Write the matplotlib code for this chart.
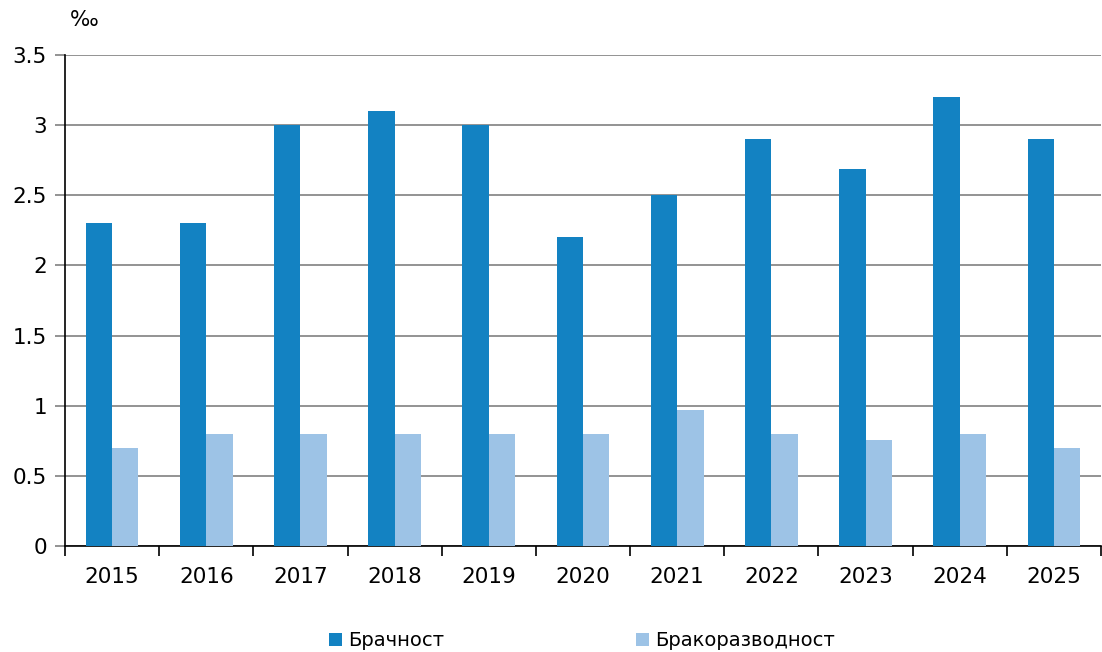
import matplotlib
matplotlib.use('Agg')
import matplotlib.pyplot as plt
import numpy as np

years = ['2015', '2016', '2017', '2018', '2019', '2020', '2021', '2022', '2023', '2024', '2025']
marriage = [2.3, 2.3, 3.0, 3.1, 3.0, 2.2, 2.5, 2.9, 2.69, 3.2, 2.9]      # Брачност
divorce = [0.7, 0.8, 0.8, 0.8, 0.8, 0.8, 0.97, 0.8, 0.755, 0.8, 0.7]    # Бракоразводност
yticks = [0, 0.5, 1, 1.5, 2, 2.5, 3, 3.5]
ytick_labels = ['0', '0.5', '1', '1.5', '2', '2.5', '3', '3.5']

dark = '#1382c2'
light = '#9dc3e6'

plt.rcParams['font.family'] = ['DejaVu Sans']

fig = plt.figure(figsize=(11.02, 6.52), dpi=100)
ax = fig.add_axes([65 / 1102, 106 / 652, 1036 / 1102, 491 / 652])

x = np.arange(len(years))
w = 0.28
ax.bar(x - w / 2, marriage, w, color=dark, label='Брачност', zorder=3)
ax.bar(x + w / 2, divorce, w, color=light, label='Бракоразводност', zorder=3)

ax.set_xlim(-0.5, len(years) - 0.5)
ax.set_ylim(0, 3.5)

#水平网格
ax.set_yticks(yticks)
ax.set_yticklabels(ytick_labels, fontsize=15.5)
ax.yaxis.grid(True, color='#808080', linewidth=1.2, zorder=0)
ax.tick_params(axis='y', length=7, width=1.2, color='#808080', pad=6)

ax.set_xticks(x)
ax.set_xticklabels(years, fontsize=15.5)
ax.set_xticks(np.arange(len(years) + 1) - 0.5, minor=True)
ax.tick_params(axis='x', which='major', length=0, pad=15)
ax.tick_params(axis='x', which='minor', length=7, width=1.2, color='black')

for s in ['top', 'right']:
    ax.spines[s].set_visible(False)
ax.spines['left'].set_color('black')
ax.spines['bottom'].set_color('black')
ax.spines['left'].set_linewidth(1.2)
ax.spines['bottom'].set_linewidth(1.2)

fig.text(70 / 1102, 1 - 20 / 652, '‰', fontsize=15.5, va='center', ha='left')

#图例
leg = fig.legend(loc='center', bbox_to_anchor=(582 / 1102, 1 - 641 / 652), ncol=2,
                 frameon=False, fontsize=14, handlelength=0.65, handleheight=0.65,
                 handletextpad=0.3, columnspacing=9.9)

plt.savefig('out.png', dpi=100)
